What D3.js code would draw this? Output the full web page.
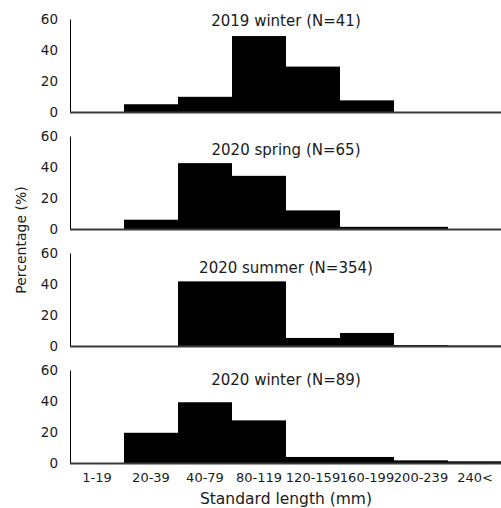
<!DOCTYPE html>
<html>
<head>
<meta charset="utf-8">
<script src="https://cdn.jsdelivr.net/npm/d3@7"></script>
<style>
  body { margin: 0; background: #fff; }
  svg text { font-family: "DejaVu Sans", sans-serif; fill: #1a1a1a; }
</style>
</head>
<body>
<svg id="chart" width="501" height="508"></svg>
<script>
// Size classes (standard length, mm)
const sizeClasses = ["1-19", "20-39", "40-79", "80-119", "120-159", "160-199", "200-239", "240<"];

// Percentage of fish per size class, one array per sampling season
const winter2019 = [0, 5, 9.8, 49, 29.3, 7.5, 0, 0];
const spring2020 = [0, 6, 42.5, 34.3, 12, 1.4, 1.4, 0];
const summer2020 = [0, 0, 41.7, 41.7, 5.2, 8.4, 0.6, 0.3];
const winter2020 = [0, 19.5, 39.2, 27.5, 3.9, 3.9, 1.7, 1.1];

const panelTitles = ["2019 winter (N=41)", "2020 spring (N=65)", "2020 summer (N=354)", "2020 winter (N=89)"];
const panelValues = [winter2019, spring2020, summer2020, winter2020];
const yTicks = [0, 20, 40, 60];

var svg = d3.select("svg#chart");

const left = 70, right = 502;
const panelTop = 19, panelStep = 117, panelHeight = 93;
// title baseline offset below each panel's top line
const titleDy = [7, 19, 20, 15];

var x = d3.scaleBand()
    .domain(sizeClasses)
    .range([left, right])
    .padding(0);

panelValues.forEach(function(vals, i) {
  const top = panelTop + i * panelStep;
  const bottom = top + panelHeight;

  var y = d3.scaleLinear().domain([0, 60]).range([bottom, top]);

  var g = svg.append("g").attr("class", "panel");

  // bars
  g.selectAll("rect")
    .data(vals.map((v, j) => ({ cls: sizeClasses[j], v: v })))
    .enter()
    .append("rect")
    .attr("x", d => x(d.cls))
    .attr("width", x.bandwidth())
    .attr("y", d => y(d.v))
    .attr("height", d => y(0) - y(d.v))
    .style("fill", "#000");

  // y axis: just the line and the labels
  var yaxis = d3.axisLeft(y).tickValues(yTicks).tickSize(0).tickPadding(12);
  var ya = g.append("g")
    .attr("transform", "translate(" + left + ",0)")
    .call(yaxis);
  ya.select(".domain").attr("stroke", "#000").attr("stroke-width", 1);
  ya.selectAll("text")
    .style("font-size", "13.5px")
    .style("font-family", "'DejaVu Sans', sans-serif")
    .attr("fill", "#1a1a1a");

  // baseline
  g.append("line")
    .attr("x1", left).attr("x2", 501)
    .attr("y1", y(0) + 0.5).attr("y2", y(0) + 0.5)
    .attr("stroke", "#3a3a3a")
    .attr("stroke-width", 2);

  // panel title
  g.append("text")
    .attr("text-anchor", "middle")
    .attr("x", (left + right) / 2)
    .attr("y", top + titleDy[i])
    .style("font-size", "15px")
    .text(panelTitles[i]);
});

// x labels under the bottom panel
var xaxis = d3.axisBottom(x).tickSize(0).tickPadding(10);
var xa = svg.append("g")
  .attr("transform", "translate(0," + (panelTop + 3 * panelStep + panelHeight) + ")")
  .call(xaxis);
xa.select(".domain").remove();
xa.selectAll("text")
  .style("font-size", "13px")
  .style("font-family", "'DejaVu Sans', sans-serif")
  .attr("fill", "#1a1a1a");

// axis titles
svg.append("text")
  .attr("text-anchor", "middle")
  .attr("x", (left + right) / 2)
  .attr("y", 504)
  .style("font-size", "15.5px")
  .text("Standard length (mm)");

svg.append("text")
  .attr("text-anchor", "middle")
  .attr("transform", "translate(26,240) rotate(-90)")
  .style("font-size", "14px")
  .text("Percentage (%)");
</script>
</body>
</html>
